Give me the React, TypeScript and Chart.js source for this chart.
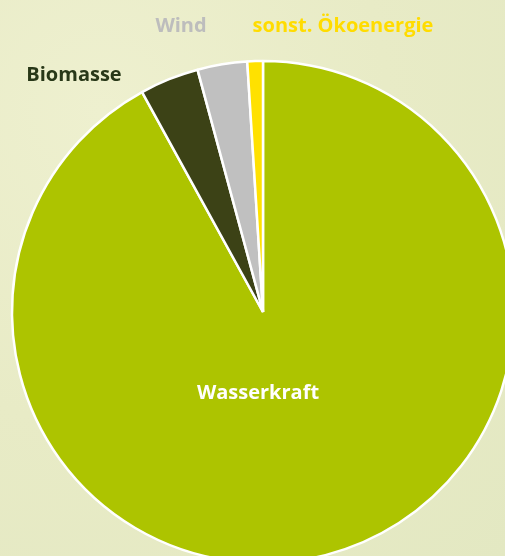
import React, { useEffect, useRef } from "react";
import { Chart, registerables } from "chart.js";

Chart.register(...registerables);

const categories = ["Wasserkraft", "Biomasse", "Wind", "sonst. Ökoenergie"];
const shares = [92.0, 3.8, 3.2, 1.0];
const sliceColors = ["#adc400", "#3c4216", "#c0c0c0", "#ffe100"];
const labelColors = ["#ffffff", "#283818", "#bdbdbd", "#ffdc00"];
// label text centres (canvas pixels)
const labelPositions: [number, number][] = [
  [258, 393],
  [74, 75],
  [181, 26],
  [343, 26],
];

const FONT = "bold 20px 'Open Sans', sans-serif";

const labelPlugin = {
  id: "sliceLabels",
  afterDatasetsDraw(chart: any) {
    const ctx = chart.ctx;
    ctx.save();
    ctx.font = FONT;
    ctx.textAlign = "center";
    ctx.textBaseline = "middle";
    categories.forEach((name, i) => {
      const [x, y] = labelPositions[i];
      ctx.fillStyle = labelColors[i];
      ctx.fillText(name, x, y);
    });
    ctx.restore();
  },
};

export default function App() {
  const ref = useRef<HTMLCanvasElement | null>(null);

  useEffect(() => {
    document.body.style.margin = "0";
    const chart = new Chart(ref.current!, {
      type: "pie",
      data: {
        labels: categories,
        datasets: [
          {
            data: shares,
            backgroundColor: sliceColors,
            borderColor: "#ffffff",
            borderWidth: 2.5,
          },
        ],
      },
      options: {
        responsive: false,
        animation: false,
        radius: 251,
        rotation: 0,
        layout: { padding: 0 },
        plugins: {
          legend: { display: false },
          tooltip: { enabled: false },
        },
      },
      plugins: [labelPlugin],
    });
    return () => chart.destroy();
  }, []);

  return (
    <div
      style={{
        position: "fixed",
        left: 0,
        top: 0,
        width: 505,
        height: 556,
        overflow: "hidden",
        background:
          "radial-gradient(ellipse at 20% 20%, #eef0cf 0%, #e8ebc6 50%, #e3e8c2 100%)",
      }}
    >
      <canvas
        ref={ref}
        width={526}
        height={624}
        style={{ position: "absolute", left: 0, top: 0 }}
      />
    </div>
  );
}
